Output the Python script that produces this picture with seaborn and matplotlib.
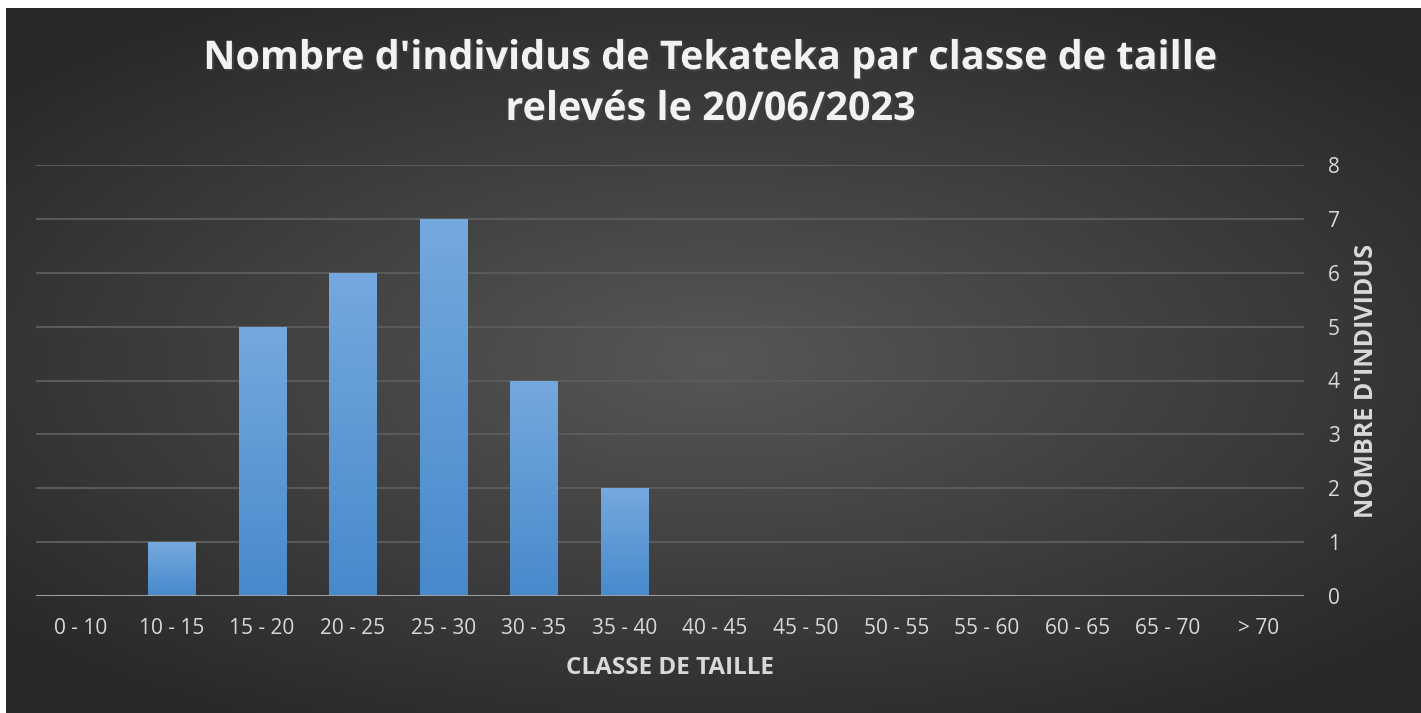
import numpy as np
import pandas as pd
import matplotlib
matplotlib.use("Agg")
import matplotlib.pyplot as plt
import matplotlib.patheffects as pe
import seaborn as sns

# Data
classes = ["0 - 10", "10 - 15", "15 - 20", "20 - 25", "25 - 30", "30 - 35", "35 - 40",
           "40 - 45", "45 - 50", "50 - 55", "55 - 60", "60 - 65", "65 - 70", "> 70"]
counts = [0, 1, 5, 6, 7, 4, 2, 0, 0, 0, 0, 0, 0, 0]
y_ticks = [0, 1, 2, 3, 4, 5, 6, 7, 8]

df = pd.DataFrame({"classe": classes, "n": counts})

sns.set_theme(style="dark")
plt.rcParams["font.family"] = ["Open Sans", "DejaVu Sans"]

W, H = 1421, 713
fig = plt.figure(figsize=(W / 100, H / 100), dpi=100)
fig.patch.set_facecolor("white")

# radial dark background (chart area, white strip left/top)
bg = fig.add_axes([6 / W, 0, 1 - 6 / W, 1 - 8 / H], zorder=-10)
gx, gy = np.meshgrid(np.linspace(-1, 1, 400), np.linspace(-1, 1, 200))
r = np.sqrt((gx * 0.85) ** 2 + (gy * 0.95) ** 2)
shade = np.clip(0.34 - 0.16 * r, 0.16, 0.34)
bg.imshow(np.dstack([shade, shade, shade]), aspect="auto", extent=[0, 1, 0, 1])
bg.set_axis_off()

ax = fig.add_axes([35.6 / W, 117 / H, (1304 - 35.6) / W, (596 - 165) / H])
ax.set_facecolor("none")

sns.barplot(data=df, x="classe", y="n", color="#5b9bd5", width=0.52, ax=ax,
            saturation=1, zorder=3)

# vertical gradient on each bar
grad = np.linspace(0, 1, 100).reshape(-1, 1)
top_c = np.array([0.46, 0.66, 0.87])
bot_c = np.array([0.28, 0.54, 0.80])
grad_img = top_c * (1 - grad[..., None]) + bot_c * grad[..., None]
for p in ax.patches:
    h = p.get_height()
    if h <= 0:
        continue
    x0 = p.get_x()
    w = p.get_width()
    p.set_facecolor("none")
    p.set_edgecolor("none")
    im = ax.imshow(grad_img, extent=[x0, x0 + w, 0, h], aspect="auto", zorder=3)
    im.set_clip_path(p)
    sh = plt.Rectangle((x0 + 0.01, -0.03), w, h, facecolor="black", alpha=0.25,
                       zorder=2.5, linewidth=0)
    ax.add_patch(sh)

ax.set_xlim(-0.5, len(classes) - 0.5)
ax.set_ylim(0, 8)
ax.set_yticks(y_ticks)
ax.yaxis.tick_right()
ax.yaxis.set_label_position("right")
ax.grid(axis="y", color="#5a5a5a", linewidth=1.5, zorder=1)
ax.grid(axis="x", visible=False)
for s in ax.spines.values():
    s.set_visible(False)
ax.axhline(0, color="#a6a6a6", linewidth=2, zorder=4)

ax.tick_params(axis="x", length=0, pad=16, labelsize=15, labelcolor="#d9d9d9")
ax.tick_params(axis="y", length=0, pad=17, labelsize=15, labelcolor="#d9d9d9")

ax.set_xlabel("CLASSE DE TAILLE", fontsize=17.5, fontweight="bold", color="#d9d9d9",
              labelpad=12)
ax.set_ylabel("NOMBRE D'INDIVIDUS", fontsize=18, fontweight="bold", color="#d9d9d9",
              labelpad=10, rotation=90)

fig.text(0.5, 1 - 84 / H,
         "Nombre d'individus de Tekateka par classe de taille\nrelevés le 20/06/2023",
         ha="center", va="center", fontsize=28.5, fontweight="bold", color="#f2f2f2",
         linespacing=1.4,
         path_effects=[pe.withSimplePatchShadow(offset=(1.5, -1.5), alpha=0.6)])

fig.savefig("out.png", dpi=100)
